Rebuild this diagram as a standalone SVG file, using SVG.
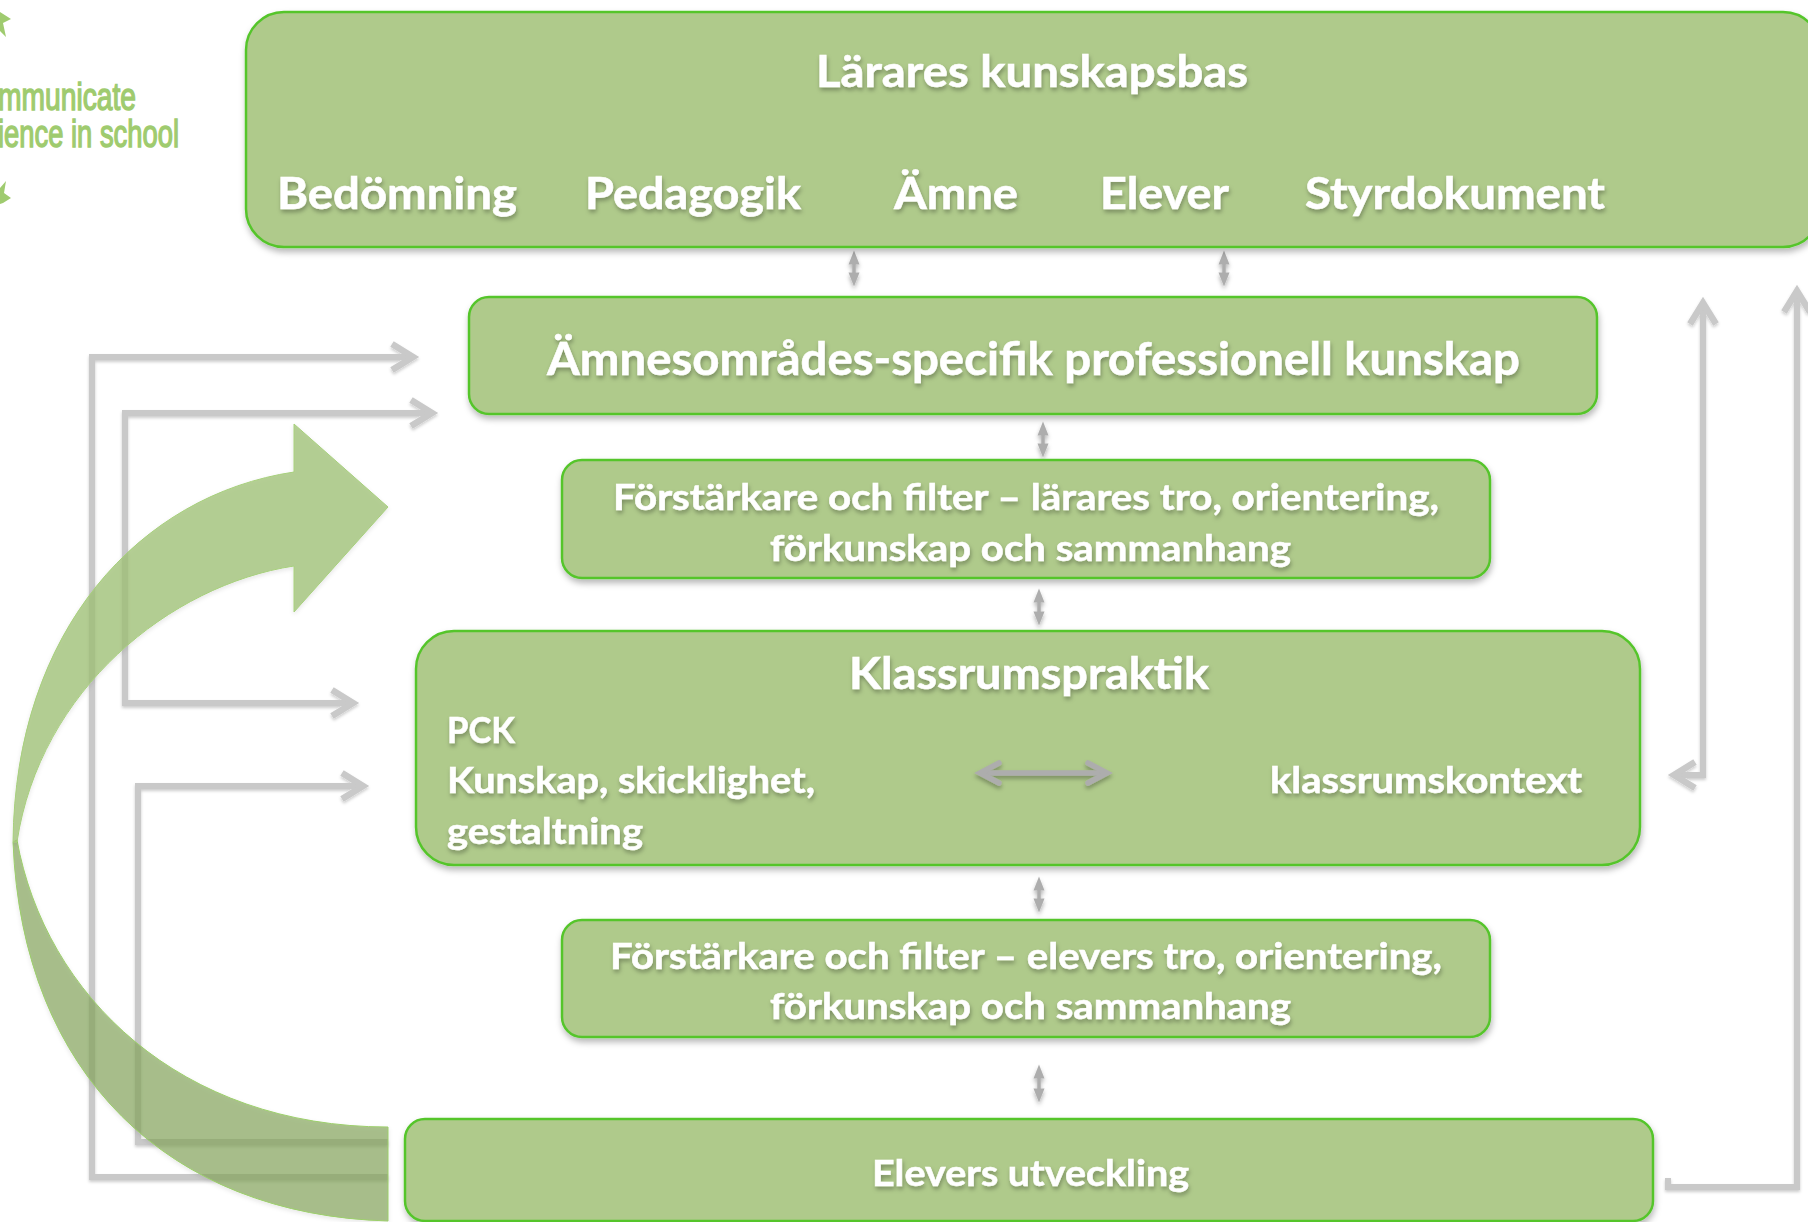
<svg xmlns="http://www.w3.org/2000/svg" width="1808" height="1222" viewBox="0 0 1808 1222">
<style>
.box{fill:#afca8b;stroke:#55c52c;stroke-width:2.5;filter:url(#bs)}
.t{font-family:"Lato","Open Sans",sans-serif;font-weight:700;fill:#fff;stroke:#fff;stroke-width:.5;filter:url(#ts)}
.logo{font-family:"Liberation Sans",Arial,sans-serif;font-size:39px;fill:#9fcb6f;stroke:#9fcb6f;stroke-width:1.5}
.conn{fill:none;stroke:#c9c9c9;stroke-width:6;filter:url(#ls)}
.small{fill:none;stroke:#adadad;stroke-width:3.5;marker-start:url(#tri);marker-end:url(#tri);filter:url(#ss)}
</style>
<defs>
<filter id="bs" x="-5%" y="-10%" width="110%" height="125%"><feDropShadow dx="1" dy="4" stdDeviation="3" flood-color="#000" flood-opacity=".28"/></filter>
<filter id="ts" x="-5%" y="-20%" width="110%" height="150%"><feDropShadow dx="1" dy="3" stdDeviation="2" flood-color="#000" flood-opacity=".3"/></filter>
<filter id="ls" filterUnits="userSpaceOnUse" x="0" y="0" width="1808" height="1222"><feDropShadow dx="0" dy="2" stdDeviation="1.5" flood-color="#000" flood-opacity=".2"/></filter>
<filter id="ss" filterUnits="userSpaceOnUse" x="0" y="0" width="1808" height="1222"><feDropShadow dx="0" dy="3" stdDeviation="2" flood-color="#000" flood-opacity=".3"/></filter>
<filter id="as" filterUnits="userSpaceOnUse" x="0" y="400" width="420" height="822"><feDropShadow dx="0" dy="2" stdDeviation="2" flood-color="#000" flood-opacity=".12"/></filter>
<marker id="chev" markerUnits="userSpaceOnUse" markerWidth="30" markerHeight="34" refX="24" refY="15" orient="auto-start-reverse" overflow="visible"><path d="M2 2 L23 15 L2 28" fill="none" stroke="#c9c9c9" stroke-width="6.5"/></marker>
<marker id="tri" markerUnits="userSpaceOnUse" markerWidth="14" markerHeight="12" refX="0.5" refY="5.5" orient="auto-start-reverse" overflow="visible"><path d="M0 0 L14 5.5 L0 11Z" fill="#adadad"/></marker>
<marker id="chev2" markerUnits="userSpaceOnUse" markerWidth="30" markerHeight="30" refX="21" refY="12" orient="auto-start-reverse" overflow="visible"><path d="M2 2 L21 12 L2 22" fill="none" stroke="#adadad" stroke-width="5.5" stroke-linecap="round"/></marker>
</defs>
<rect width="1808" height="1222" fill="#fff"/>

<g id="logo">
<polygon points="0,12 11,19 3,23 6,37 0,31" fill="#9fcb6f"/>
<polygon points="0,188 6,181 4,193 11,198 3,203 0,204" fill="#9fcb6f"/>
<text class="logo"><tspan x="-2" y="110" textLength="138" lengthAdjust="spacingAndGlyphs">mmunicate</tspan><tspan x="-2" y="147" textLength="181" lengthAdjust="spacingAndGlyphs">ience in school</tspan></text>
</g>

<g id="connectors">
<path class="conn" d="M1668 1178 V1187 H1797 V290" marker-end="url(#chev)"/>
<path class="conn" d="M1673 775 H1703 V302" marker-start="url(#chev)" marker-end="url(#chev)"/>
<path class="conn" d="M388 1177 H92 V357 H414" marker-end="url(#chev)"/>
<path class="conn" d="M433 413 H125 V703 H354" marker-start="url(#chev)" marker-end="url(#chev)"/>
<path class="conn" d="M388 1142 H138 V786 H364" marker-end="url(#chev)"/>
<path class="small" d="M854 264 V273"/>
<path class="small" d="M1224 264 V273"/>
<path class="small" d="M1043 435 V444"/>
<path class="small" d="M1039 602 V612"/>
<path class="small" d="M1039 890 V899"/>
<path class="small" d="M1039 1078 V1089"/>
</g>

<g id="curved-arrow">
<path d="M13 842 C22 1075 170 1215 388 1221 V1127 C180 1127 45 995 17 840Z" fill="#84a55a" fill-opacity=".68" stroke="#9ccf6b" stroke-width="1" filter="url(#as)"/>
<path d="M13 842 C15 630 140 495 294 472 V424 L388 507 L294 612 V566 C170 585 40 690 17 842Z" fill="#9dc074" fill-opacity=".75" stroke="#a7d07c" stroke-width="1" filter="url(#as)"/>
</g>

<g id="node-larares">
<rect class="box" x="246" y="12" width="1575" height="235" rx="38"/>
<text class="t" x="816" y="87" font-size="43" textLength="432" lengthAdjust="spacingAndGlyphs">Lärares kunskapsbas</text>
<text class="t" x="277" y="209" font-size="44" textLength="240" lengthAdjust="spacingAndGlyphs">Bedömning</text>
<text class="t" x="585" y="209" font-size="44" textLength="216" lengthAdjust="spacingAndGlyphs">Pedagogik</text>
<text class="t" x="894" y="209" font-size="44" textLength="124" lengthAdjust="spacingAndGlyphs">Ämne</text>
<text class="t" x="1100" y="209" font-size="44" textLength="129" lengthAdjust="spacingAndGlyphs">Elever</text>
<text class="t" x="1305" y="209" font-size="44" textLength="300" lengthAdjust="spacingAndGlyphs">Styrdokument</text>
</g>

<g id="node-amnesomrade">
<rect class="box" x="469" y="297" width="1128" height="117" rx="20"/>
<text class="t" x="547" y="375" font-size="45" textLength="973" lengthAdjust="spacingAndGlyphs">Ämnesområdes-specifik professionell kunskap</text>
</g>

<g id="node-forstarkare-larare">
<rect class="box" x="562" y="460" width="928" height="118" rx="20"/>
<text class="t" x="613" y="510" font-size="37" textLength="826" lengthAdjust="spacingAndGlyphs">Förstärkare och filter – lärares tro, orientering,</text>
<text class="t" x="770" y="561" font-size="37" textLength="521" lengthAdjust="spacingAndGlyphs">förkunskap och sammanhang</text>
</g>

<g id="node-klassrum">
<rect class="box" x="416" y="631" width="1224" height="234" rx="38"/>
<text class="t" x="849" y="689" font-size="43" textLength="360" lengthAdjust="spacingAndGlyphs">Klassrumspraktik</text>
<text class="t" x="447" y="743" font-size="37" textLength="68" lengthAdjust="spacingAndGlyphs">PCK</text>
<text class="t" x="447" y="793" font-size="37" textLength="368" lengthAdjust="spacingAndGlyphs">Kunskap, skicklighet,</text>
<text class="t" x="447" y="844" font-size="37" textLength="196" lengthAdjust="spacingAndGlyphs">gestaltning</text>
<text class="t" x="1270" y="793" font-size="37" textLength="312" lengthAdjust="spacingAndGlyphs">klassrumskontext</text>
<path d="M980 773 H1107" fill="none" stroke="#adadad" stroke-width="5.5" marker-start="url(#chev2)" marker-end="url(#chev2)" filter="url(#ss)"/>
</g>

<g id="node-forstarkare-elever">
<rect class="box" x="562" y="920" width="928" height="117" rx="20"/>
<text class="t" x="610" y="969" font-size="37" textLength="832" lengthAdjust="spacingAndGlyphs">Förstärkare och filter – elevers tro, orientering,</text>
<text class="t" x="770" y="1019" font-size="37" textLength="521" lengthAdjust="spacingAndGlyphs">förkunskap och sammanhang</text>
</g>

<g id="node-elevers-utveckling">
<rect class="box" x="405" y="1119" width="1248" height="102" rx="20"/>
<text class="t" x="872" y="1186" font-size="37" textLength="317" lengthAdjust="spacingAndGlyphs">Elevers utveckling</text>
</g>
</svg>
